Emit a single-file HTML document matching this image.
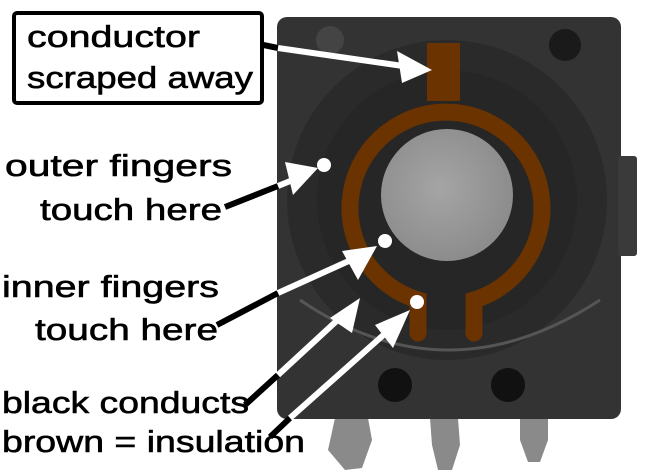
<!DOCTYPE html>
<html><head><meta charset="utf-8"><style>
html,body{margin:0;padding:0;background:#fff;width:646px;height:474px;overflow:hidden}
text{font-family:"Liberation Sans",sans-serif;font-size:31px;fill:#000;stroke:#000;stroke-width:0.6}
</style></head><body>
<svg width="646" height="474" viewBox="0 0 646 474" xmlns="http://www.w3.org/2000/svg">
<defs>
<radialGradient id="g" cx="0.45" cy="0.45" r="0.6"><stop offset="0" stop-color="#a5a5a5"/><stop offset="1" stop-color="#8a8a8a"/></radialGradient>
</defs>
<path d="M335 418 L368 418 L372 440 L362 468 L345 470 L328 450 Z" fill="#8a8a8a"/>
<path d="M430 418 L458 418 L460 445 L452 470 L438 470 L432 445 Z" fill="#8a8a8a"/>
<path d="M520 418 L548 418 L548 440 L540 462 L528 462 L520 440 Z" fill="#8a8a8a"/>
<rect x="277" y="17" width="344" height="402" rx="10" fill="#333"/>
<rect x="618" y="156" width="19" height="100" rx="3" fill="#3a3a3a"/>
<circle cx="447" cy="200" r="160" fill="#2a2a2a"/>
<circle cx="447" cy="200" r="130" fill="#262626"/>
<path d="M300 300 Q447 400 600 300" stroke="#555" stroke-width="3" fill="none"/>
<circle cx="395" cy="385" r="17" fill="#111"/>
<circle cx="508" cy="385" r="17" fill="#111"/>
<circle cx="330" cy="40" r="14" fill="#444"/>
<circle cx="565" cy="45" r="16" fill="#1a1a1a"/>
<circle cx="447" cy="195" r="66" fill="url(#g)"/>
<path d="M418 333 L418 300 A96 96 0 1 1 474 300 L474 333" stroke="#6a3300" stroke-width="17" fill="none" stroke-linecap="round"/>
<rect x="427" y="43" width="33" height="58" fill="#6a3300"/>
<circle cx="324" cy="165" r="7" fill="#fff"/>
<circle cx="385" cy="241" r="7" fill="#fff"/>
<circle cx="417" cy="302" r="7" fill="#fff"/>
<g stroke-width="6" fill="none">
<line x1="200" y1="32" x2="278" y2="48" stroke="#000"/>
<line x1="278" y1="48" x2="410" y2="67" stroke="#fff"/>
<line x1="225" y1="207" x2="278" y2="186" stroke="#000"/>
<line x1="278" y1="186" x2="305" y2="175" stroke="#fff"/>
<line x1="217" y1="325" x2="278" y2="293" stroke="#000"/>
<line x1="278" y1="293" x2="362" y2="255" stroke="#fff"/>
<line x1="245" y1="405" x2="278" y2="375" stroke="#000"/>
<line x1="278" y1="375" x2="343" y2="315" stroke="#fff"/>
<line x1="270" y1="437" x2="290" y2="418" stroke="#000"/>
<line x1="290" y1="418" x2="398" y2="322" stroke="#fff"/>
</g>
<g fill="#fff">
<polygon points="432,70 397,51 402,83"/>
<polygon points="318,168 285,162 293,195"/>
<polygon points="377,246 342,251 358,280"/>
<polygon points="360,298 330,318 352,333"/>
<polygon points="410,310 375,325 393,348"/>
</g>
<rect x="14" y="13" width="248" height="90" rx="3" fill="#fff" stroke="#000" stroke-width="4"/>
<text x="27" y="47" textLength="173" lengthAdjust="spacingAndGlyphs">conductor</text>
<text x="27" y="88" textLength="226" lengthAdjust="spacingAndGlyphs">scraped away</text>
<text x="5" y="176" textLength="227" lengthAdjust="spacingAndGlyphs">outer fingers</text>
<text x="40" y="220" textLength="182" lengthAdjust="spacingAndGlyphs">touch here</text>
<text x="2" y="297" textLength="217" lengthAdjust="spacingAndGlyphs">inner fingers</text>
<text x="35" y="340" textLength="183" lengthAdjust="spacingAndGlyphs">touch here</text>
<text x="2" y="413" textLength="247" lengthAdjust="spacingAndGlyphs">black conducts</text>
<text x="2" y="452" textLength="303" lengthAdjust="spacingAndGlyphs">brown = insulation</text>
</svg>
</body></html>
